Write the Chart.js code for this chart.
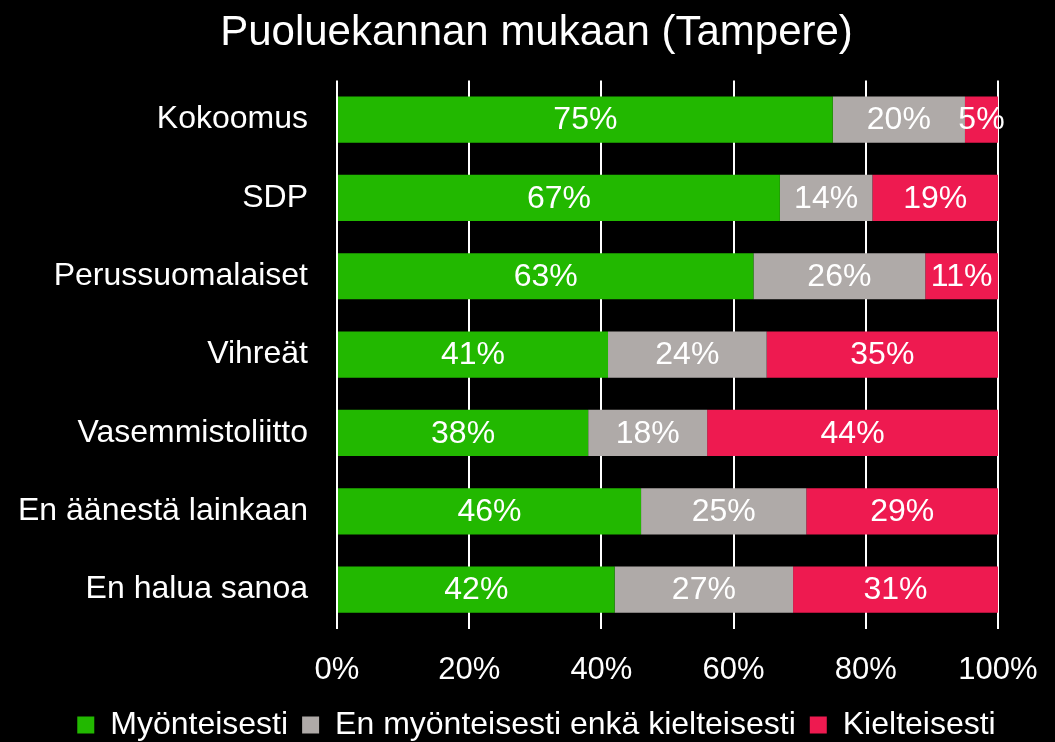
<!DOCTYPE html>
<html>
<head>
<meta charset="utf-8">
<script src="https://cdn.jsdelivr.net/npm/chart.js@4"></script>
<style>
  html, body { margin: 0; padding: 0; background: #000; }
  canvas { display: block; background: #000; }
</style>
</head>
<body>
<canvas id="puolueChart" width="1055" height="742"></canvas>
<script>
// Tampere - vastaukset puoluekannan mukaan
const puolueet = ['Kokoomus', 'SDP', 'Perussuomalaiset', 'Vihreät', 'Vasemmistoliitto', 'En äänestä lainkaan', 'En halua sanoa'];
const myonteisesti = [75, 67, 63, 41, 38, 46, 42];
const neutraali = [20, 14, 26, 24, 18, 25, 27];
const kielteisesti = [5, 19, 11, 35, 44, 29, 31];
const sarjat = ['Myönteisesti', 'En myönteisesti enkä kielteisesti', 'Kielteisesti'];

const FONT = "'Liberation Sans', Arial, sans-serif";

// prosenttiluvut palkkien keskelle
const arvoPlugin = {
    id: 'arvot',
    afterDatasetsDraw(chart) {
        const ctx = chart.ctx;
        ctx.save();
        ctx.fillStyle = '#fff';
        ctx.font = '32px ' + FONT;
        ctx.textAlign = 'center';
        ctx.textBaseline = 'middle';
        chart.data.datasets.forEach((ds, i) => {
            const meta = chart.getDatasetMeta(i);
            meta.data.forEach((bar, j) => {
                const x = (bar.x + bar.base) / 2;
                ctx.fillText(ds.data[j] + '%', x, bar.y + 1);
            });
        });
        ctx.restore();
    }
};

const ctx = document.getElementById('puolueChart').getContext('2d');
const chart = new Chart(ctx, {
    type: 'bar',
    data: {
        labels: puolueet,
        datasets: [
            { label: sarjat[0], data: myonteisesti, backgroundColor: '#22B800' },
            { label: sarjat[1], data: neutraali, backgroundColor: '#AFAAA8' },
            { label: sarjat[2], data: kielteisesti, backgroundColor: '#EE1A50' }
        ]
    },
    options: {
        indexAxis: 'y',
        responsive: false,
        animation: false,
        barPercentage: 0.59,
        categoryPercentage: 1,
        layout: { padding: { left: 18, right: 0, top: 0, bottom: -9 } },
        scales: {
            x: {
                stacked: true,
                min: 0,
                max: 100,
                ticks: {
                    stepSize: 20,
                    color: '#fff',
                    font: { family: FONT, size: 31 },
                    padding: 23,
                    callback: v => v + '%'
                },
                grid: { color: '#fff', lineWidth: 2, drawTicks: false },
                border: { display: false },
                // tilaa oikealle ja vähemmän tyhjää akselin alle
                afterFit: scale => {
                    scale.paddingRight = 57;
                    scale.height -= 17;
                }
            },
            y: {
                stacked: true,
                ticks: {
                    color: '#fff',
                    font: { family: FONT, size: 32 },
                    padding: 0
                },
                grid: { display: false, drawTicks: true, tickLength: 29 },
                border: { display: false }
            }
        },
        plugins: {
            title: {
                display: true,
                text: 'Puoluekannan mukaan (Tampere)',
                color: '#fff',
                font: { family: FONT, size: 42, weight: 'normal' },
                padding: { top: 8, bottom: 22 }
            },
            legend: {
                position: 'bottom',
                labels: {
                    color: '#fff',
                    font: { family: FONT, size: 32 },
                    boxWidth: 17,
                    boxHeight: 17,
                    padding: 14
                }
            },
            tooltip: { enabled: false }
        }
    },
    plugins: [arvoPlugin]
});
</script>
</body>
</html>
